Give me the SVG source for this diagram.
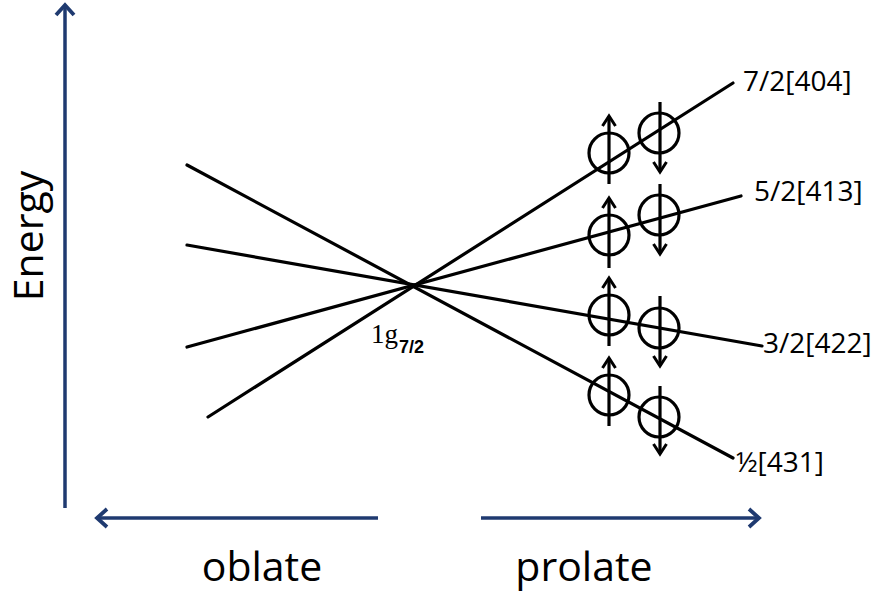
<svg xmlns="http://www.w3.org/2000/svg" width="876" height="593" viewBox="0 0 876 593">
<defs>
<style>
.axis{stroke:#1F3A70;stroke-width:3.5;fill:none}
.lvl{stroke:#000;stroke-width:3.2;fill:none;stroke-linecap:round}
.orb{stroke:#000;stroke-width:3.2;fill:none}
.spin{stroke:#000;stroke-width:3.2;fill:none}
.lbl{font-family:"Open Sans","Liberation Sans",sans-serif;font-size:28px;fill:#000}
.big{font-family:"Open Sans","Liberation Sans",sans-serif;font-size:41px;fill:#000}
</style>
<marker id="navyHead" markerUnits="userSpaceOnUse" markerWidth="30" markerHeight="30" viewBox="-15 -15 30 30" refX="0" refY="0" orient="auto" overflow="visible">
<path d="M-10,-9 L0,0 L-10,9" fill="none" stroke="#1F3A70" stroke-width="3.8"/>
</marker>
<marker id="spinHead" markerUnits="userSpaceOnUse" markerWidth="20" markerHeight="20" viewBox="-10 -10 20 20" refX="0" refY="0" orient="auto" overflow="visible">
<path d="M-10,-6.5 L0,0 L-10,6.5" fill="none" stroke="#000" stroke-width="3"/>
</marker>
</defs>
<rect width="876" height="593" fill="#fff"/>

<g id="axes">
<line class="axis" x1="65" y1="508" x2="65" y2="5" marker-end="url(#navyHead)"/>
<line class="axis" x1="378" y1="518" x2="97" y2="518" marker-end="url(#navyHead)"/>
<line class="axis" x1="481" y1="518" x2="759" y2="518" marker-end="url(#navyHead)"/>
</g>

<g id="axis-labels">
<text class="big" transform="translate(43,236) rotate(-90)" text-anchor="middle">Energy</text>
<text class="big" x="262" y="581" text-anchor="middle">oblate</text>
<text class="big" x="584" y="581" text-anchor="middle">prolate</text>
</g>

<g id="connectors">
<line class="lvl" x1="208" y1="417" x2="733" y2="83"/>
<line class="lvl" x1="187" y1="347" x2="741" y2="196"/>
<line class="lvl" x1="187" y1="245" x2="762" y2="346"/>
<line class="lvl" x1="187" y1="165" x2="733" y2="458"/>
</g>

<g id="node-1g72">
<text x="371" y="343" font-family="'Liberation Serif',serif" font-size="27" fill="#000">1g</text>
<text x="399" y="353" font-family="'Liberation Sans',sans-serif" font-size="18" font-weight="bold" fill="#000">7/2</text>
</g>

<g id="level-7-2-404">
<circle class="orb" cx="609" cy="153" r="20"/>
<line class="spin" x1="609" y1="184" x2="609" y2="116" marker-end="url(#spinHead)"/>
<circle class="orb" cx="659" cy="133" r="20"/>
<line class="spin" x1="660" y1="102" x2="660" y2="172" marker-end="url(#spinHead)"/>
<text class="lbl" x="743" y="91">7/2[404]</text>
</g>

<g id="level-5-2-413">
<circle class="orb" cx="609" cy="235" r="20"/>
<line class="spin" x1="609" y1="268" x2="609" y2="198" marker-end="url(#spinHead)"/>
<circle class="orb" cx="659" cy="215" r="20"/>
<line class="spin" x1="660" y1="184" x2="660" y2="254" marker-end="url(#spinHead)"/>
<text class="lbl" x="754" y="201">5/2[413]</text>
</g>

<g id="level-3-2-422">
<circle class="orb" cx="609" cy="315" r="20"/>
<line class="spin" x1="609" y1="346" x2="609" y2="278" marker-end="url(#spinHead)"/>
<circle class="orb" cx="659" cy="328" r="20"/>
<line class="spin" x1="660" y1="296" x2="660" y2="366" marker-end="url(#spinHead)"/>
<text class="lbl" x="763" y="353">3/2[422]</text>
</g>

<g id="level-1-2-431">
<circle class="orb" cx="609" cy="395" r="20"/>
<line class="spin" x1="609" y1="426" x2="609" y2="358" marker-end="url(#spinHead)"/>
<circle class="orb" cx="659" cy="417" r="20"/>
<line class="spin" x1="660" y1="386" x2="660" y2="454" marker-end="url(#spinHead)"/>
<text class="lbl" x="736" y="472">½[431]</text>
</g>
</svg>
